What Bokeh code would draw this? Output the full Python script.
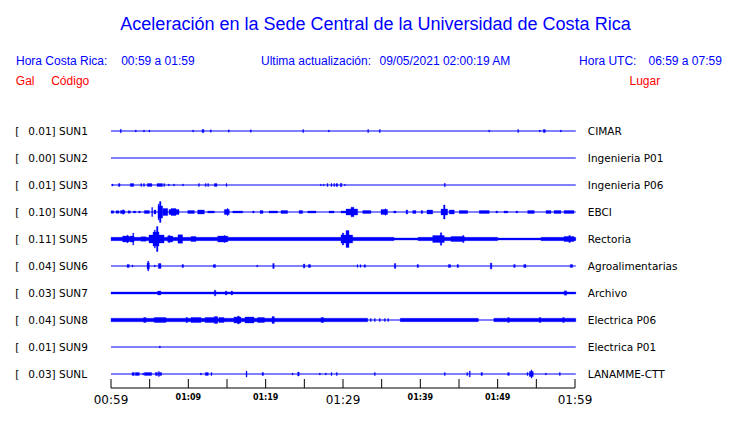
from bokeh.plotting import figure
from bokeh.models import Range1d
from bokeh.core.properties import value
from bokeh.embed import file_html
from bokeh.resources import INLINE

# ---------------- data ----------------
title_text = "Aceleración en la Sede Central de la Universidad de Costa Rica"
hora_cr_label = "Hora Costa Rica:"
hora_cr_value = "00:59 a 01:59"
update_label = "Ultima actualización:"
update_value = "09/05/2021 02:00:19 AM"
utc_label = "Hora UTC:"
utc_value = "06:59 a 07:59"
head_gal = "Gal"
head_code = "Código"
head_place = "Lugar"

codes = ["SUN1", "SUN2", "SUN3", "SUN4", "SUN5", "SUN6", "SUN7", "SUN8", "SUN9", "SUNL"]
peak_gal = [0.01, 0.00, 0.01, 0.10, 0.11, 0.04, 0.03, 0.04, 0.01, 0.03]
places = ["CIMAR", "Ingenieria P01", "Ingenieria P06", "EBCI", "Rectoria",
          "Agroalimentarias", "Archivo", "Electrica P06", "Electrica P01", "LANAMME-CTT"]

tick_minutes = [0, 5, 10, 15, 20, 25, 30, 35, 40, 45, 50, 55, 60]
major_tick_labels = {0: "00:59", 30: "01:29", 60: "01:59"}
minor_tick_labels = {10: "01:09", 20: "01:19", 40: "01:39", 50: "01:49"}
axis_start_min = 0
axis_end_min = 60
trace_end_min = 60.1

# continuous noise bands: (start minute, duration minutes, half amplitude)
bands_sun5 = [(0.0, 36.6, 1.7), (36.6, 3.1, 1.1), (39.7, 10.3, 1.7), (50.0, 5.6, 1.0), (55.6, 4.5, 1.7)]
bands_sun7 = [(0.0, 60.1, 1.1)]
bands_sun8 = [(0.0, 33.2, 1.8), (37.4, 10.1, 1.7), (49.5, 10.6, 1.8)]

# bursts: (start minute, duration minutes, half amplitude)
bursts_sun1 = [(1.20, 0.13, 1.8), (3.14, 0.13, 1.0), (4.20, 0.13, 1.0), (4.91, 0.13, 1.0),
               (10.56, 0.13, 1.0), (11.77, 0.26, 1.6), (12.84, 0.13, 1.2), (15.17, 0.13, 1.2),
               (18.01, 0.13, 1.2), (24.79, 0.13, 1.5), (28.10, 0.13, 1.0), (33.19, 0.13, 1.5),
               (34.69, 0.13, 1.5), (48.84, 0.13, 1.0), (52.59, 0.13, 1.5), (55.38, 0.13, 1.0),
               (55.90, 0.26, 1.6), (58.10, 0.13, 1.0)]
bursts_sun2 = []
bursts_sun3 = [(0.13, 0.13, 1.0), (0.97, 0.2, 1.5), (2.50, 0.44, 1.4), (3.84, 0.13, 1.4),
               (4.20, 0.13, 1.4), (4.69, 0.6, 1.4), (5.95, 0.7, 1.4), (6.81, 0.13, 1.4),
               (7.41, 0.13, 1.0), (8.08, 0.13, 1.0), (9.25, 0.13, 1.0), (11.31, 0.13, 1.4),
               (12.18, 0.13, 1.4), (12.50, 0.13, 1.4), (13.36, 0.35, 1.4), (14.87, 0.13, 1.4),
               (27.06, 0.13, 0.8), (27.45, 0.13, 0.8), (27.93, 0.13, 1.4), (28.45, 0.13, 1.4),
               (28.80, 0.13, 1.4), (29.09, 0.22, 1.4), (29.65, 0.2, 1.8), (30.17, 0.13, 0.8),
               (43.10, 0.13, 1.8)]
bursts_sun4 = [(0.00, 0.35, 1.3), (0.65, 0.39, 1.3), (1.23, 0.58, 1.5), (1.51, 0.13, 2.2),
               (2.2, 0.3, 1.2), (2.9, 0.3, 1.0), (3.58, 0.2, 1.0), (4.31, 0.65, 1.5),
               (5.26, 0.13, 4.5), (5.56, 0.26, 2.0), (6.08, 0.6, 6.0), (6.1, 0.13, 8.0),
               (6.27, 0.2, 10.5), (6.69, 0.65, 3.5), (7.50, 1.3, 2.5), (7.76, 0.65, 3.5),
               (9.92, 0.86, 1.5), (11.21, 0.86, 2.0), (12.50, 0.86, 1.0), (14.65, 0.65, 2.5),
               (15.0, 0.13, 3.5), (15.74, 1.29, 1.0), (18.32, 0.2, 1.0), (19.27, 0.39, 1.5),
               (20.43, 1.12, 1.0), (21.98, 0.86, 1.5), (24.31, 0.48, 1.5), (25.44, 1.07, 1.0),
               (28.19, 0.65, 1.0), (29.74, 0.65, 1.0), (30.39, 1.51, 3.0), (31.03, 0.39, 4.8),
               (32.55, 1.07, 1.5), (34.91, 0.86, 2.5), (35.43, 0.13, 3.2), (36.56, 0.3, 1.0),
               (38.15, 0.22, 2.0), (39.01, 0.43, 1.5), (40.09, 0.22, 1.5), (40.86, 0.74, 2.0),
               (42.67, 0.86, 3.0), (43.0, 0.2, 7.0), (43.74, 0.65, 2.0), (45.03, 1.09, 1.5),
               (47.62, 1.29, 1.5), (49.78, 0.22, 1.0), (50.82, 0.48, 1.0), (52.37, 0.22, 1.0),
               (53.88, 0.86, 1.5), (56.25, 0.65, 1.5), (57.28, 0.91, 1.5), (58.58, 1.29, 1.5)]
bursts_sun5 = [(1.51, 0.86, 3.0), (2.07, 0.13, 3.8), (2.46, 0.52, 3.0), (2.81, 0.13, 6.0),
               (3.88, 0.65, 2.2), (4.91, 1.55, 4.0), (5.43, 0.78, 7.0), (5.6, 0.13, 9.0),
               (5.88, 0.2, 12.5), (6.47, 0.39, 4.0), (7.33, 0.65, 3.0), (7.46, 0.13, 3.7),
               (8.66, 0.6, 4.3), (10.34, 0.65, 2.5), (13.80, 1.29, 3.0), (14.61, 0.13, 3.5),
               (29.74, 1.51, 4.0), (29.9, 0.2, 6.0), (30.39, 0.39, 8.5), (41.60, 1.5, 3.5),
               (42.58, 0.2, 6.3), (43.97, 1.72, 2.5), (45.48, 0.13, 3.7), (58.58, 1.29, 2.5),
               (59.2, 0.2, 3.5)]
bursts_sun6 = [(2.07, 0.3, 1.5), (2.72, 0.13, 1.0), (4.66, 0.3, 3.0), (4.75, 0.13, 5.0),
               (5.60, 0.13, 1.0), (6.12, 0.35, 2.5), (9.18, 0.2, 1.5), (13.23, 0.3, 1.5),
               (18.84, 0.13, 1.0), (20.91, 0.2, 2.5), (24.87, 0.2, 2.0), (25.51, 0.3, 1.5),
               (31.81, 0.13, 1.3), (32.20, 0.13, 1.3), (32.72, 0.2, 1.3), (36.63, 0.2, 2.5),
               (39.57, 0.2, 1.5), (43.62, 0.3, 1.5), (44.74, 0.2, 1.5), (49.05, 0.2, 3.0),
               (52.07, 0.2, 1.5), (53.37, 0.3, 1.5), (59.39, 0.3, 1.5)]
bursts_sun7 = [(6.04, 0.4, 2.0), (13.36, 0.2, 2.8), (14.78, 0.2, 2.0), (15.52, 0.2, 2.0),
               (58.62, 0.3, 2.2)]
bursts_sun8 = [(4.23, 0.3, 2.5), (5.60, 1.5, 2.5), (9.70, 0.22, 2.5), (10.34, 1.29, 2.5),
               (12.16, 1.2, 2.5), (13.36, 0.43, 3.5), (13.97, 0.65, 2.5), (15.90, 0.9, 3.0),
               (16.38, 0.2, 4.0), (17.33, 1.16, 3.0), (18.97, 0.86, 2.5), (20.82, 0.3, 3.5),
               (27.16, 0.35, 2.5), (33.53, 0.13, 1.5), (34.05, 0.13, 1.5), (34.69, 0.13, 1.5),
               (35.34, 0.13, 1.5), (35.78, 0.13, 1.5), (51.30, 0.2, 2.5), (55.38, 0.2, 2.5),
               (58.41, 0.2, 2.5)]
bursts_sun9 = [(6.25, 0.13, 1.0)]
bursts_sunl = [(2.72, 0.3, 1.5), (3.14, 0.52, 1.5), (4.10, 0.13, 1.0), (4.31, 0.95, 1.5),
               (5.73, 0.3, 1.5), (6.12, 0.13, 2.5), (6.25, 0.3, 1.5), (11.55, 0.13, 1.0),
               (12.19, 0.39, 1.5), (12.93, 0.13, 1.5), (17.46, 0.13, 3.0), (19.53, 0.2, 1.5),
               (23.41, 0.13, 1.0), (24.14, 0.2, 2.0), (26.94, 0.13, 1.0), (27.71, 0.13, 1.0),
               (28.45, 0.13, 1.5), (29.13, 0.13, 1.5), (34.05, 0.13, 1.5), (43.10, 0.13, 1.5),
               (46.0, 0.13, 1.5), (46.33, 0.13, 3.0), (47.84, 0.2, 1.5), (51.30, 0.2, 1.5),
               (53.79, 0.13, 1.5), (54.09, 0.52, 2.5), (54.31, 0.13, 4.0), (56.16, 0.13, 1.0),
               (57.97, 0.13, 1.5)]

station_bands = [[], [], [], [], bands_sun5, [], bands_sun7, bands_sun8, [], []]
station_bursts = [bursts_sun1, bursts_sun2, bursts_sun3, bursts_sun4, bursts_sun5,
                  bursts_sun6, bursts_sun7, bursts_sun8, bursts_sun9, bursts_sunl]

# ---------------- layout ----------------
W, H = 724, 407
PX_PER_MIN = 464 / 60.0
X0 = 110.5          # canvas x of minute 0
ROW_TOP = 130.5     # canvas y of first trace
ROW_GAP = 27
AXIS_Y = 387.5
TICK_LEN = 9
MIN_W = 0.13
BLUE = "#0000ff"
RED = "#ff0000"

def sx(px):  # canvas x -> minutes
    return (px - X0) / PX_PER_MIN

p = figure(width=W, height=H, output_backend="svg", toolbar_location=None,
           x_range=Range1d(-X0 / PX_PER_MIN, (W - X0) / PX_PER_MIN),
           y_range=Range1d(H, 0),
           x_axis_type=None, y_axis_type=None,
           min_border_left=0, min_border_right=0, min_border_top=0,
           min_border_bottom=0)
p.outline_line_color = None
p.background_fill_color = "white"
p.border_fill_color = "white"

rows = [ROW_TOP + i * ROW_GAP for i in range(len(codes))]

# baselines
p.segment(x0=[0] * len(rows), x1=[trace_end_min] * len(rows), y0=rows, y1=rows,
          line_color=BLUE, line_width=1.2)

# bands and bursts as filled quads
L, R, T, B = [], [], [], []
for i, y in enumerate(rows):
    for (t, w, a) in station_bands[i] + station_bursts[i]:
        L.append(t)
        R.append(t + max(w, MIN_W))
        T.append(y - a)
        B.append(y + a)
p.quad(left=L, right=R, top=T, bottom=B, fill_color=BLUE, line_color=BLUE,
       line_width=0.3)

# time axis (line, ticks pointing up, two sizes of labels)
p.segment(x0=[axis_start_min], x1=[axis_end_min], y0=[AXIS_Y], y1=[AXIS_Y],
          line_color="black", line_width=1)
p.segment(x0=tick_minutes, x1=tick_minutes, y0=[AXIS_Y] * len(tick_minutes),
          y1=[AXIS_Y - TICK_LEN] * len(tick_minutes), line_color="black", line_width=1)
p.text(x=list(major_tick_labels.keys()), y=[AXIS_Y + 11.5] * len(major_tick_labels),
       text=list(major_tick_labels.values()), text_align="center",
       text_baseline="alphabetic", text_font=value("DejaVu Sans"),
       text_font_size="12px", text_color="black")
p.text(x=list(minor_tick_labels.keys()), y=[AXIS_Y + 9.5] * len(minor_tick_labels),
       text=list(minor_tick_labels.values()), text_align="center",
       text_baseline="alphabetic", text_font=value("DejaVu Sans"),
       text_font_size="8px", text_font_style="bold", text_color="black")

# header texts
p.text(x=[sx(375)], y=[23.3], text=[title_text], text_align="center",
       text_baseline="middle", text_font=value("Liberation Sans"),
       text_font_size="18px", text_color=BLUE)
p.text(x=[sx(15.5), sx(120.7), sx(260.5), sx(379), sx(578.6), sx(648)],
       y=[60.6] * 6,
       text=[hora_cr_label, hora_cr_value, update_label, update_value, utc_label, utc_value],
       text_align="left", text_baseline="middle", text_font=value("Liberation Sans"),
       text_font_size="12px", text_color=BLUE)
p.text(x=[sx(15.3), sx(50.7), sx(629)], y=[80.6] * 3,
       text=[head_gal, head_code, head_place],
       text_align="left", text_baseline="middle", text_font=value("Liberation Sans"),
       text_font_size="12px", text_color=RED)

# station labels
p.text(x=[sx(14.7)] * len(rows), y=rows, text=["["] * len(rows),
       text_align="left", text_baseline="middle", text_font=value("DejaVu Sans"),
       text_font_size="10.5px", text_color="black")
p.text(x=[sx(27.7)] * len(rows), y=rows,
       text=["%.2f] %s" % (v, c) for v, c in zip(peak_gal, codes)],
       text_align="left", text_baseline="middle", text_font=value("DejaVu Sans"),
       text_font_size="10.5px", text_color="black")
p.text(x=[sx(587.3)] * len(rows), y=rows, text=places,
       text_align="left", text_baseline="middle", text_font=value("DejaVu Sans"),
       text_font_size="10.5px", text_color="black")

open("out.html", "w").write(file_html(p, INLINE))
